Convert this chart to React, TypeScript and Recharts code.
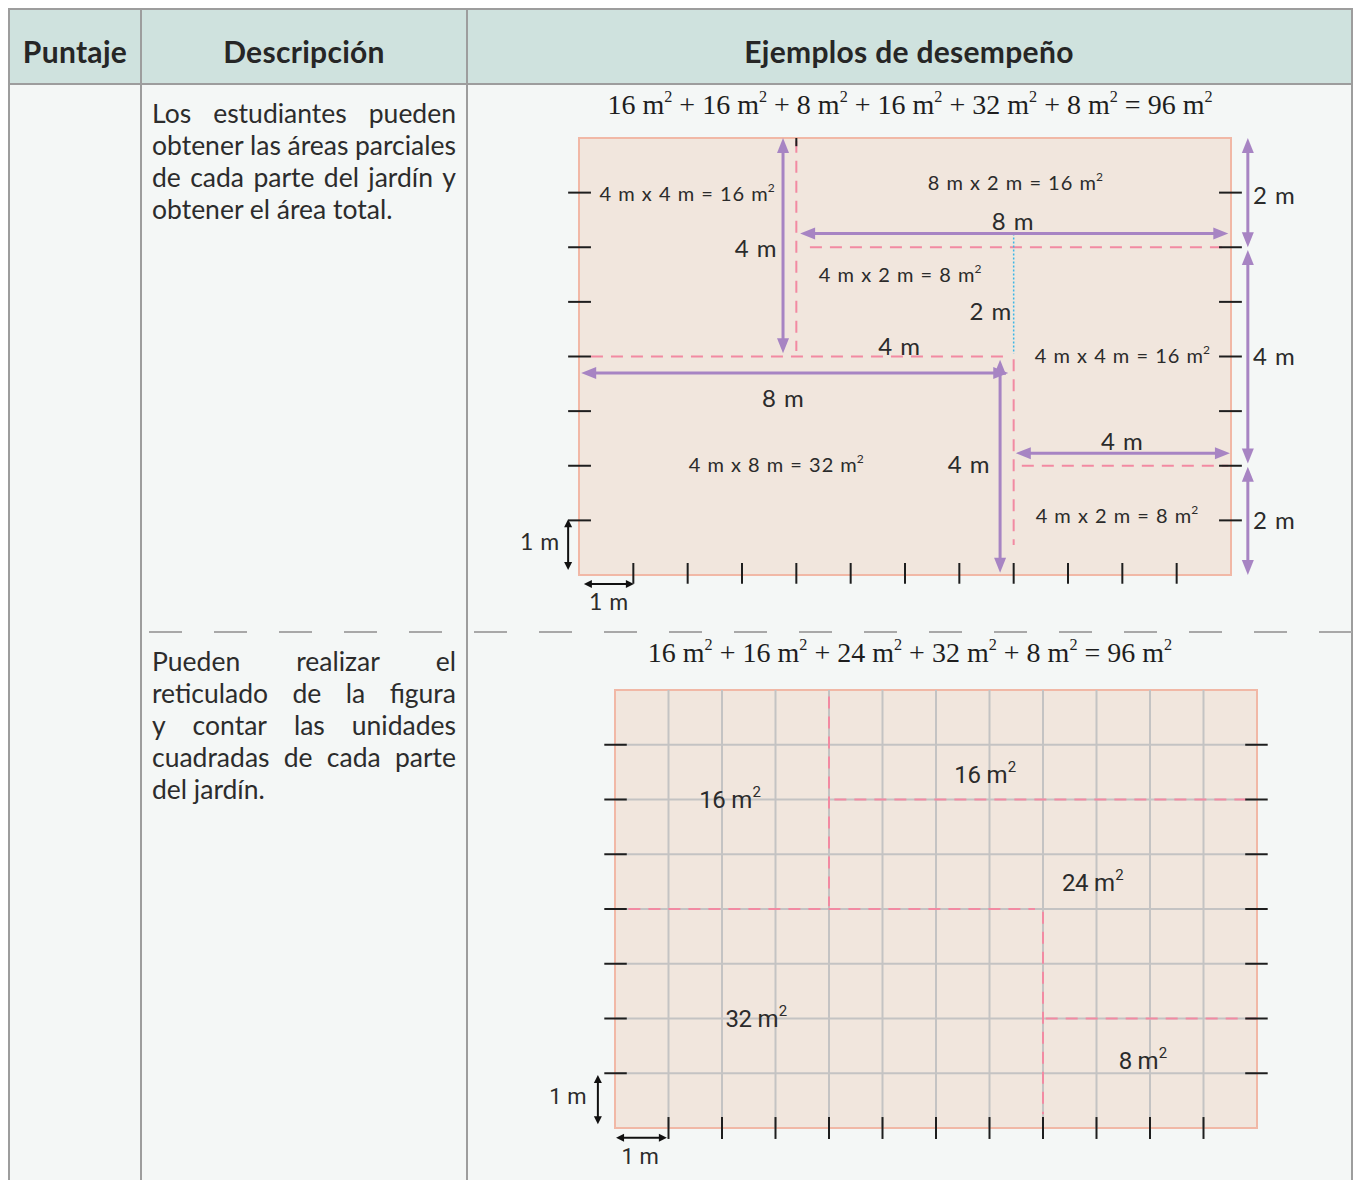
import React from 'react';
import { ComposedChart, XAxis, YAxis, ReferenceArea, ReferenceLine, ReferenceDot, Scatter } from 'recharts';

type Seg = { x1: number; y1: number; x2: number; y2: number };
type Lbl = { x: number; y: number; text: string; sup: boolean; kind: string };

// ---------- shared data ----------
const gardenCorners = [{ x: 0, y: 0 }, { x: 12, y: 8 }];
const sideTicks = [1, 2, 3, 4, 5, 6, 7];
const bottomTicks = [1, 2, 3, 4, 5, 6, 7, 8, 9, 10, 11];

const headers = ['Puntaje', 'Descripción', 'Ejemplos de desempeño'];
const desc1 = ['Los estudiantes pueden', 'obtener las áreas parciales', 'de cada parte del jardín y', 'obtener el área total.'];
const desc2 = ['Pueden realizar el', 'reticulado de la figura', 'y contar las unidades', 'cuadradas de cada parte', 'del jardín.'];
const terms1 = [16, 16, 8, 16, 32, 8];
const terms2 = [16, 16, 24, 32, 8];
const total = 96;

// ---------- diagram 1 ----------
const d1Dashed: Seg[] = [
  { x1: 4, y1: 7.95, x2: 4, y2: 4.1 },
  { x1: 4.25, y1: 6, x2: 11.95, y2: 6 },
  { x1: 0.22, y1: 4, x2: 7.85, y2: 4 },
  { x1: 8, y1: 3.95, x2: 8, y2: 0.55 },
  { x1: 8.15, y1: 2, x2: 11.95, y2: 2 },
];
const d1Dotted: Seg[] = [{ x1: 8, y1: 6.25, x2: 8, y2: 4.05 }];
const d1Arrows: Seg[] = [
  { x1: 3.755, y1: 8, x2: 3.755, y2: 4.06 },
  { x1: 4.07, y1: 6.25, x2: 11.95, y2: 6.25 },
  { x1: 0.04, y1: 3.7, x2: 7.9, y2: 3.7 },
  { x1: 7.75, y1: 3.94, x2: 7.75, y2: 0.04 },
  { x1: 8.04, y1: 2.23, x2: 11.98, y2: 2.23 },
  { x1: 12.31, y1: 8, x2: 12.31, y2: 6.0 },
  { x1: 12.31, y1: 5.95, x2: 12.31, y2: 2.04 },
  { x1: 12.31, y1: 1.98, x2: 12.31, y2: 0 },
];
const d1UnitArrows: Seg[] = [
  { x1: -0.2, y1: 1.02, x2: -0.2, y2: 0.09 },
  { x1: 0.09, y1: -0.165, x2: 1.01, y2: -0.165 },
];
const d1ExtraTicks: Seg[] = [{ x1: 4, y1: 8, x2: 4, y2: 7.85 }];
const d1Labels: Lbl[] = [
  { x: 1.99, y: 7.0, text: '4 m x 4 m = 16 m', sup: true, kind: 'calc' },
  { x: 8.03, y: 7.2, text: '8 m x 2 m = 16 m', sup: true, kind: 'calc' },
  { x: 5.91, y: 5.51, text: '4 m x 2 m = 8 m', sup: true, kind: 'calc' },
  { x: 10.0, y: 4.03, text: '4 m x 4 m = 16 m', sup: true, kind: 'calc' },
  { x: 3.63, y: 2.03, text: '4 m x 8 m = 32 m', sup: true, kind: 'calc' },
  { x: 9.9, y: 1.1, text: '4 m x 2 m = 8 m', sup: true, kind: 'calc' },
  { x: 7.99, y: 6.5, text: '8 m', sup: false, kind: 'dim' },
  { x: 3.26, y: 6.0, text: '4 m', sup: false, kind: 'dim' },
  { x: 7.58, y: 4.85, text: '2 m', sup: false, kind: 'dim' },
  { x: 5.9, y: 4.21, text: '4 m', sup: false, kind: 'dim' },
  { x: 3.76, y: 3.26, text: '8 m', sup: false, kind: 'dim' },
  { x: 7.18, y: 2.05, text: '4 m', sup: false, kind: 'dim' },
  { x: 10.0, y: 2.47, text: '4 m', sup: false, kind: 'dim' },
  { x: 12.8, y: 6.98, text: '2 m', sup: false, kind: 'dim' },
  { x: 12.8, y: 4.03, text: '4 m', sup: false, kind: 'dim' },
  { x: 12.8, y: 1.03, text: '2 m', sup: false, kind: 'dim' },
  { x: -0.72, y: 0.62, text: '1 m', sup: false, kind: 'unit' },
  { x: 0.55, y: -0.48, text: '1 m', sup: false, kind: 'unit' },
];

// ---------- diagram 2 ----------
const d2Dashed: Seg[] = [
  { x1: 4, y1: 7.88, x2: 4, y2: 4.05 },
  { x1: 4.1, y1: 6, x2: 11.8, y2: 6 },
  { x1: 0.25, y1: 4, x2: 7.85, y2: 4 },
  { x1: 8, y1: 3.95, x2: 8, y2: 0.25 },
  { x1: 8.05, y1: 2, x2: 12, y2: 2 },
];
const d2UnitArrows: Seg[] = [
  { x1: -0.32, y1: 0.97, x2: -0.32, y2: 0.07 },
  { x1: 0.02, y1: -0.18, x2: 0.97, y2: -0.18 },
];
const d2Labels: Lbl[] = [
  { x: 2.15, y: 5.99, text: '16 m', sup: true, kind: 'area' },
  { x: 6.92, y: 6.45, text: '16 m', sup: true, kind: 'area' },
  { x: 8.93, y: 4.47, text: '24 m', sup: true, kind: 'area' },
  { x: 2.64, y: 1.99, text: '32 m', sup: true, kind: 'area' },
  { x: 9.87, y: 1.22, text: '8 m', sup: true, kind: 'area' },
  { x: -0.88, y: 0.58, text: '1 m', sup: false, kind: 'unit2' },
  { x: 0.47, y: -0.51, text: '1 m', sup: false, kind: 'unit2' },
];

// ---------- styles ----------
const PURPLE = '#a784c3';
const PINK = '#f28aa2';
const INK = '#2b2b2b';
const labelStyle: Record<string, { font: string; size: number; sup: number; dy: number; ls: number }> = {
  calc: { font: 'Lato', size: 20, sup: 12, dy: -6, ls: 1 },
  dim: { font: 'Lato', size: 24, sup: 14, dy: -8, ls: 1 },
  unit: { font: 'Lato', size: 23, sup: 13, dy: -7, ls: 0.6 },
  area: { font: 'Roboto', size: 24, sup: 15, dy: -8, ls: -0.3 },
  unit2: { font: 'Roboto', size: 22, sup: 13, dy: -7, ls: 0 },
};

const arrowShape = (color: string, head: number, half: number, width: number) => (p: any) => {
  const { x1, y1, x2, y2 } = p;
  const dx = x2 - x1;
  const dy = y2 - y1;
  const len = Math.hypot(dx, dy) || 1;
  const ux = dx / len;
  const uy = dy / len;
  const nx = -uy;
  const ny = ux;
  const tri = (tx: number, ty: number, dir: number) => {
    const bx = tx - dir * ux * head;
    const by = ty - dir * uy * head;
    return `${tx},${ty} ${bx + nx * half},${by + ny * half} ${bx - nx * half},${by - ny * half}`;
  };
  return (
    <g>
      <line
        x1={x1 + ux * head * 0.7}
        y1={y1 + uy * head * 0.7}
        x2={x2 - ux * head * 0.7}
        y2={y2 - uy * head * 0.7}
        stroke={color}
        strokeWidth={width}
      />
      <polygon points={tri(x2, y2, 1)} fill={color} />
      <polygon points={tri(x1, y1, -1)} fill={color} />
    </g>
  );
};

const textShape = (l: Lbl) => (p: any) => {
  const s = labelStyle[l.kind];
  return (
    <text
      x={p.cx}
      y={p.cy}
      textAnchor="middle"
      dominantBaseline="central"
      fontFamily={s.font}
      fontSize={s.size}
      fill={INK}
    >
      <tspan letterSpacing={s.ls}>{l.text}</tspan>
      {l.sup ? (
        <tspan dx={s.ls > 0 ? -s.ls : 0.5} dy={s.dy} fontSize={s.sup}>
          2
        </tspan>
      ) : null}
    </text>
  );
};

type DiagramProps = {
  left: number;
  top: number;
  margin: { top: number; right: number; bottom: number; left: number };
  grid: boolean;
  dashed: Seg[];
  dotted: Seg[];
  arrows: Seg[];
  unitArrows: Seg[];
  extraTicks: Seg[];
  labels: Lbl[];
  tickIn: number;
  tickOut: number;
  btIn: number;
  btOut: number;
};

function Diagram(props: DiagramProps) {
  const { margin, grid, dashed, dotted, arrows, unitArrows, extraTicks, labels, tickIn, tickOut, btIn, btOut } = props;
  const tickSegs: Seg[] = [
    ...sideTicks.map((k) => ({ x1: -tickOut, y1: k, x2: tickIn, y2: k })),
    ...sideTicks.map((k) => ({ x1: 12 - tickIn, y1: k, x2: 12 + tickOut, y2: k })),
    ...bottomTicks.map((k) => ({ x1: k, y1: btIn, x2: k, y2: -btOut })),
    ...extraTicks,
  ];
  return (
    <div style={{ position: 'absolute', left: props.left, top: props.top }}>
      <ComposedChart width={880} height={544} data={gardenCorners} margin={margin}>
        <XAxis dataKey="x" type="number" domain={[0, 12]} allowDataOverflow hide />
        <YAxis dataKey="y" type="number" domain={[0, 8]} allowDataOverflow hide />
        <ReferenceArea x1={0} x2={12} y1={0} y2={8} fill="#f1e6dd" fillOpacity={1} stroke="#f1b8a6" strokeWidth={2} ifOverflow="visible" />
        {grid && bottomTicks.map((k) => (
          <ReferenceLine key={'gx' + k} x={k} stroke="#c4c3c3" strokeWidth={2} ifOverflow="visible" />
        ))}
        {grid && sideTicks.map((k) => (
          <ReferenceLine key={'gy' + k} y={k} stroke="#c4c3c3" strokeWidth={2} ifOverflow="visible" />
        ))}
        {dashed.map((s, i) => (
          <ReferenceLine
            key={'d' + i}
            segment={[{ x: s.x1, y: s.y1 }, { x: s.x2, y: s.y2 }]}
            stroke={PINK}
            strokeWidth={2}
            strokeDasharray="12 8"
            ifOverflow="visible"
          />
        ))}
        {dotted.map((s, i) => (
          <ReferenceLine
            key={'o' + i}
            segment={[{ x: s.x1, y: s.y1 }, { x: s.x2, y: s.y2 }]}
            stroke="#3cb6e6"
            strokeWidth={1.5}
            strokeDasharray="2 2"
            ifOverflow="visible"
          />
        ))}
        {tickSegs.map((s, i) => (
          <ReferenceLine
            key={'t' + i}
            segment={[{ x: s.x1, y: s.y1 }, { x: s.x2, y: s.y2 }]}
            stroke="#1e1e1e"
            strokeWidth={2}
            ifOverflow="visible"
          />
        ))}
        {arrows.map((s, i) => (
          <ReferenceLine
            key={'a' + i}
            segment={[{ x: s.x1, y: s.y1 }, { x: s.x2, y: s.y2 }]}
            stroke={PURPLE}
            ifOverflow="visible"
            shape={arrowShape(PURPLE, 15, 6, 3)}
          />
        ))}
        {unitArrows.map((s, i) => (
          <ReferenceLine
            key={'u' + i}
            segment={[{ x: s.x1, y: s.y1 }, { x: s.x2, y: s.y2 }]}
            stroke="#111"
            ifOverflow="visible"
            shape={arrowShape('#111', 8, 4, 2)}
          />
        ))}
        {labels.map((l, i) => (
          <ReferenceDot key={'l' + i} x={l.x} y={l.y} r={1} ifOverflow="visible" shape={textShape(l)} />
        ))}
        <Scatter dataKey="y" isAnimationActive={false} shape={() => <g />} />
      </ComposedChart>
    </div>
  );
}

const Sup = () => (
  <span style={{ fontSize: '0.58em', position: 'relative', top: '-0.72em' }}>2</span>
);

function Formula({ terms, top }: { terms: number[]; top: number }) {
  return (
    <div
      style={{
        position: 'absolute',
        left: 467,
        width: 886,
        top,
        textAlign: 'center',
        fontFamily: '"Liberation Serif", serif',
        fontSize: 28,
        lineHeight: '34px',
        color: '#1e1e1e',
        whiteSpace: 'nowrap',
      }}
    >
      {terms.map((t, i) => (
        <span key={i}>
          {t} m<Sup />
          {i < terms.length - 1 ? ' + ' : ' = '}
        </span>
      ))}
      {total} m<Sup />
    </div>
  );
}

function Desc({ lines, top }: { lines: string[]; top: number }) {
  return (
    <>
      {lines.map((ln, i) => {
        const last = i === lines.length - 1;
        return (
          <div
            key={i}
            style={{
              position: 'absolute',
              left: 152,
              width: 304,
              top: top + i * 32,
              height: 32,
              lineHeight: '32px',
              fontFamily: 'Lato, sans-serif',
              fontSize: 26.5,
              color: '#2c2c2c',
              whiteSpace: 'nowrap',
              display: 'flex',
              justifyContent: last ? 'flex-start' : 'space-between',
            }}
          >
            {last ? ln : ln.split(' ').map((w, j) => <span key={j}>{w}</span>)}
          </div>
        );
      })}
    </>
  );
}

const GRAY = '#9d9d9d';

export default function App() {
  const headerCenters = [75, 304, 909];
  return (
    <div style={{ position: 'absolute', left: 0, top: 0, width: 1354, height: 1180, background: '#ffffff', overflow: 'hidden' }}>
      <div style={{ position: 'absolute', left: 8, top: 8, width: 1345, height: 1190, background: '#f4f7f6', boxSizing: 'border-box', border: `2px solid ${GRAY}` }} />
      <div style={{ position: 'absolute', left: 10, top: 10, width: 1341, height: 73, background: '#cfe2de' }} />
      <div style={{ position: 'absolute', left: 8, top: 83, width: 1345, height: 2, background: GRAY }} />
      <div style={{ position: 'absolute', left: 140, top: 8, width: 2, height: 1180, background: GRAY }} />
      <div style={{ position: 'absolute', left: 466, top: 8, width: 2, height: 1180, background: GRAY }} />
      <svg style={{ position: 'absolute', left: 141, top: 630 }} width={1212} height={4}>
        <line x1={0} y1={2} x2={1212} y2={2} stroke="#a8a8a8" strokeWidth={2} strokeDasharray="33 32" strokeDashoffset={-8} />
      </svg>
      {headers.map((h, i) => (
        <div
          key={h}
          style={{
            position: 'absolute',
            left: headerCenters[i] - 300,
            width: 600,
            top: 33,
            lineHeight: '36px',
            textAlign: 'center',
            fontFamily: 'Lato, sans-serif',
            fontWeight: 700,
            fontSize: 30,
            letterSpacing: 0.3,
            color: '#262626',
          }}
        >
          {h}
        </div>
      ))}
      <Desc lines={desc1} top={97} />
      <Desc lines={desc2} top={645} />
      <Formula terms={terms1} top={88} />
      <Formula terms={terms2} top={636} />
      <Diagram
        left={470}
        top={86}
        margin={{ top: 52, right: 119, bottom: 55, left: 109 }}
        grid={false}
        dashed={d1Dashed}
        dotted={d1Dotted}
        arrows={d1Arrows}
        unitArrows={d1UnitArrows}
        extraTicks={d1ExtraTicks}
        labels={d1Labels}
        tickIn={0.22}
        tickOut={0.2}
        btIn={0.22}
        btOut={0.16}
      />
      <Diagram
        left={470}
        top={636}
        margin={{ top: 54, right: 93, bottom: 52, left: 145 }}
        grid={true}
        dashed={d2Dashed}
        dotted={[]}
        arrows={[]}
        unitArrows={d2UnitArrows}
        extraTicks={[]}
        labels={d2Labels}
        tickIn={0.22}
        tickOut={0.2}
        btIn={0.2}
        btOut={0.2}
      />
    </div>
  );
}
